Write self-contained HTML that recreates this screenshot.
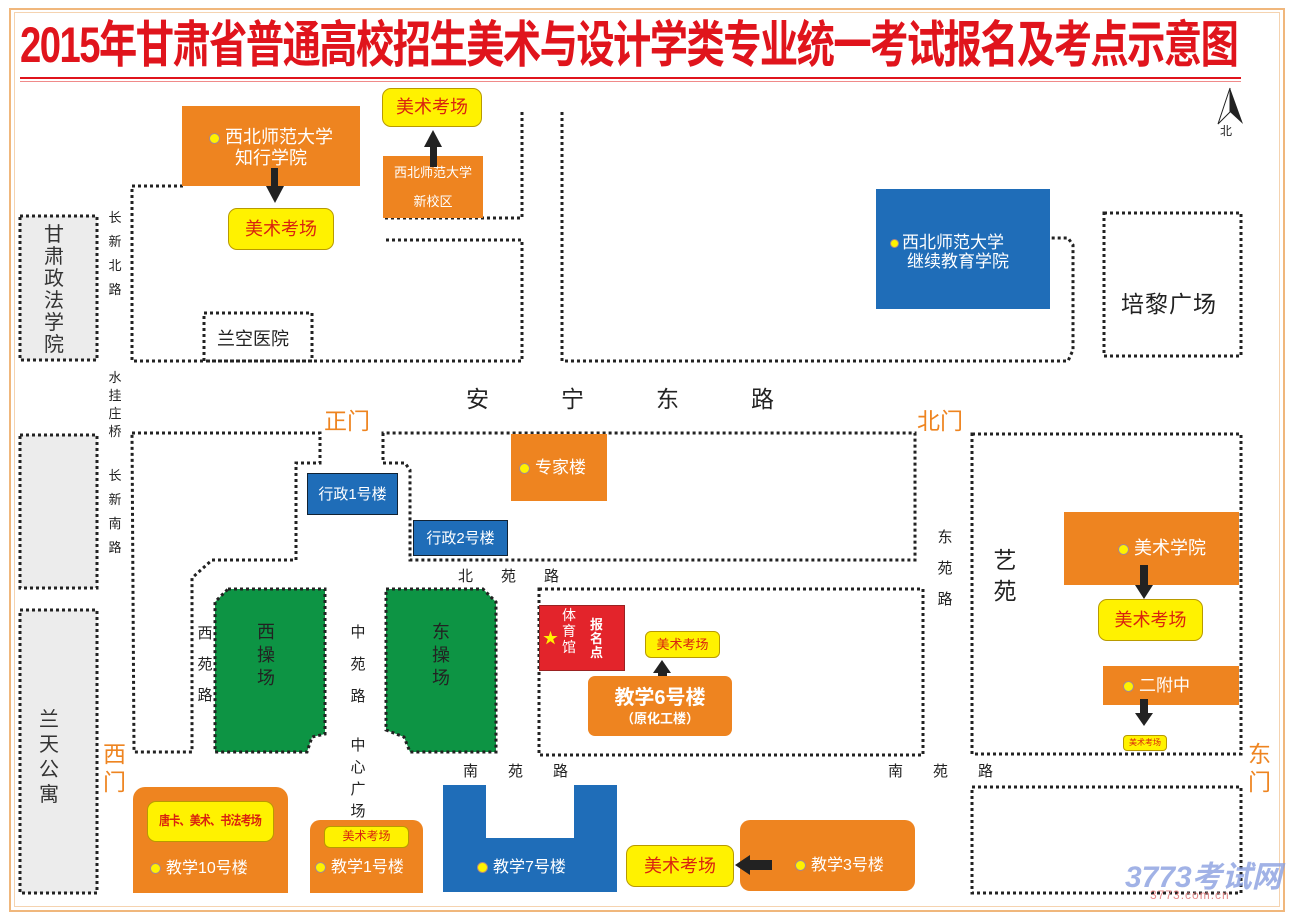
<!DOCTYPE html>
<html><head><meta charset="utf-8"><style>
*{margin:0;padding:0;box-sizing:border-box}
body{width:1291px;height:917px;background:#fff;position:relative;overflow:hidden;font-family:"Liberation Sans","Noto Sans CJK SC",sans-serif}
.a{position:absolute}
.or{position:absolute;background:#ee8420;color:#fff}
.bl{position:absolute;background:#1f6db8;color:#fff}
.ye{position:absolute;background:#fff200;border:1.5px solid #b89a00;border-radius:9px;color:#d9230f;text-align:center;white-space:nowrap}
.dot{display:inline-block;width:11px;height:11px;border-radius:50%;background:#fff200;border:1px solid #a88;vertical-align:middle;margin-right:5px}
.v{position:absolute;color:#222;text-align:center;line-height:1.45;width:20px}
.g{position:absolute;color:#ee8420;font-size:23px}
.t{position:absolute;color:#222}
</style></head><body>
<div class="a" style="left:9px;top:8px;width:1276px;height:904px;border:2px solid #f0b77c"></div>
<div class="a" style="left:14px;top:12px;width:1266px;height:895px;border:1px solid #f5d3b0"></div>
<div class="a" style="left:20px;top:12px;font-size:50px;line-height:66px;color:#e0141c;font-weight:bold;letter-spacing:-2px;white-space:nowrap;transform:scaleX(0.765);transform-origin:left">2015年甘肃省普通高校招生美术与设计学类专业统一考试报名及考点示意图</div>
<div class="a" style="left:20px;top:77px;width:1221px;height:2px;background:#e0141c"></div>
<div class="a" style="left:20px;top:81px;width:1221px;height:1px;background:#f08a8a"></div>

<svg class="a" style="left:0;top:0" width="1291" height="917">
<g fill="none" stroke="#222" stroke-width="3" stroke-dasharray="3 3">
<rect x="20" y="216" width="77" height="144" fill="#ececec"/>
<rect x="20" y="435" width="77" height="153" fill="#ececec"/>
<rect x="20" y="610" width="77" height="283" fill="#ececec"/>
<path d="M183 186H132V361H522V240H383"/>
<path d="M522 112V218H383"/>
<path d="M562 112V361H1068L1073 350V245L1068 238H1050"/>
<rect x="1104" y="213" width="137" height="143"/>
<rect x="204" y="313" width="108" height="48"/>
<path d="M132 433H320V463H296V560H212L192 578V752H134Z"/>
<path d="M383 433V463H405L410 470V560H915V433Z"/>
<rect x="539" y="589" width="384" height="166"/>
<rect x="972" y="434" width="269" height="320"/>
<rect x="972" y="787" width="269" height="106"/>
</g>
<g fill="#0d9444" stroke="#222" stroke-width="3" stroke-dasharray="3 3">
<path d="M228 589H325V734L312 737L307 752H215V602Z"/>
<path d="M386 589H483L496 602V752H410L404 737L386 730Z"/>
</g>
<g fill="#1f6db8">
<path d="M443 785H486V838H574V785H617V892H443Z"/>
</g>
<path d="M1230 88L1218 124L1230 112Z" fill="#fff" stroke="#222"/>
<path d="M1230 88L1243 124L1230 112Z" fill="#222"/>
</svg>
<div class="t" style="left:1220px;top:122px;font-size:12px">北</div>

<div class="or" style="left:182px;top:106px;width:178px;height:80px;font-size:18px;line-height:21px;padding-top:21px;text-align:center"><span class="dot"></span>西北师范大学<br>知行学院</div>
<div class="a" style="left:271px;top:168px;width:7px;height:20px;background:#222"></div>
<div class="a" style="left:266px;top:186px;border-left:9px solid transparent;border-right:9px solid transparent;border-top:17px solid #222"></div>
<div class="ye" style="left:228px;top:208px;width:106px;height:42px;font-size:18px;line-height:40px">美术考场</div>
<div class="ye" style="left:382px;top:88px;width:100px;height:39px;font-size:18px;line-height:37px">美术考场</div>
<div class="or" style="left:383px;top:156px;width:100px;height:62px;font-size:13px;line-height:29px;text-align:center;padding-top:2px">西北师范大学<br>新校区</div>
<div class="a" style="left:430px;top:145px;width:7px;height:22px;background:#222"></div>
<div class="a" style="left:424px;top:130px;border-left:9px solid transparent;border-right:9px solid transparent;border-bottom:17px solid #222"></div>
<div class="v" style="left:38px;top:224px;font-size:20px;line-height:22px;width:32px;color:#333">甘<br>肃<br>政<br>法<br>学<br>院</div>
<div class="v" style="left:105px;top:206px;font-size:13px;line-height:24px">长<br>新<br>北<br>路</div>
<div class="v" style="left:105px;top:369px;font-size:13px;line-height:18px">水<br>挂<br>庄<br>桥</div>
<div class="v" style="left:105px;top:464px;font-size:13px;line-height:24px">长<br>新<br>南<br>路</div>
<div class="t" style="left:217px;top:325px;font-size:18px">兰空医院</div>
<div class="bl" style="left:876px;top:189px;width:174px;height:120px;font-size:17px;line-height:19px;padding-top:44px;padding-left:14px"><span class="dot" style="width:9px;height:9px;margin-right:3px"></span>西北师范大学<br><span style="padding-left:17px">继续教育学院</span></div>
<div class="t" style="left:1121px;top:285px;font-size:23px;letter-spacing:1px">培黎广场</div>
<div class="t" style="left:466px;top:380px;font-size:23px;letter-spacing:72px;white-space:nowrap">安宁东路</div>
<div class="g" style="left:324px;top:402px">正门</div>
<div class="g" style="left:917px;top:402px">北门</div>
<div class="g" style="left:103px;top:740px;width:26px;line-height:28px">西门</div>
<div class="g" style="left:1248px;top:740px;width:26px;line-height:28px">东门</div>
<div class="v" style="left:33px;top:708px;font-size:20px;line-height:25px;width:32px;color:#333">兰<br>天<br>公<br>寓</div>

<div class="bl" style="left:307px;top:473px;width:91px;height:42px;font-size:15px;line-height:42px;text-align:center;border:1px solid #123">行政1号楼</div>
<div class="bl" style="left:413px;top:520px;width:95px;height:36px;font-size:15px;line-height:36px;text-align:center;border:1px solid #123">行政2号楼</div>
<div class="or" style="left:511px;top:434px;width:96px;height:67px;font-size:17px;line-height:67px;padding-left:8px"><span class="dot"></span>专家楼</div>
<div class="t" style="left:458px;top:565px;font-size:15px;letter-spacing:28px;white-space:nowrap">北苑路</div>
<div class="v" style="left:195px;top:618px;font-size:15px;line-height:31px">西<br>苑<br>路</div>
<div class="v" style="left:256px;top:621px;font-size:18px;line-height:23px;color:#222">西<br>操<br>场</div>
<div class="v" style="left:431px;top:621px;font-size:18px;line-height:23px;color:#222">东<br>操<br>场</div>
<div class="v" style="left:348px;top:617px;font-size:15px;line-height:32px">中<br>苑<br>路</div>
<div class="v" style="left:348px;top:735px;font-size:15px;line-height:22px">中<br>心<br>广<br>场</div>
<div class="v" style="left:935px;top:522px;font-size:15px;line-height:31px">东<br>苑<br>路</div>
<div class="v" style="left:990px;top:545px;font-size:23px;line-height:31px;width:30px">艺<br>苑</div>

<div class="a" style="left:539px;top:605px;width:86px;height:66px;background:#e3242b;border:1px solid #922"></div>
<div class="a" style="left:543px;top:627px;color:#fff200;font-size:15px">★</div>
<div class="a" style="left:562px;top:607px;color:#fff;font-size:14px;line-height:16px;width:16px">体<br>育<br>馆</div>
<div class="a" style="left:590px;top:618px;color:#fff;font-size:13px;line-height:14px;width:16px;font-weight:bold">报<br>名<br>点</div>
<div class="ye" style="left:645px;top:631px;width:75px;height:27px;font-size:13px;line-height:25px;border-radius:6px">美术考场</div>
<div class="a" style="left:658px;top:672px;width:9px;height:18px;background:#222"></div>
<div class="a" style="left:653px;top:660px;border-left:9px solid transparent;border-right:9px solid transparent;border-bottom:13px solid #222"></div>
<div class="or" style="left:588px;top:676px;width:144px;height:60px;border-radius:7px;text-align:center;font-weight:bold"><div style="font-size:20px;line-height:26px;padding-top:9px">教学6号楼</div><div style="font-size:13px;line-height:16px">（原化工楼）</div></div>

<div class="or" style="left:1064px;top:512px;width:175px;height:73px;font-size:18px;line-height:73px;padding-left:54px"><span class="dot"></span>美术学院</div>
<div class="a" style="left:1140px;top:565px;width:8px;height:22px;background:#222"></div>
<div class="a" style="left:1135px;top:585px;border-left:9px solid transparent;border-right:9px solid transparent;border-top:14px solid #222"></div>
<div class="ye" style="left:1098px;top:599px;width:105px;height:42px;font-size:18px;line-height:40px">美术考场</div>
<div class="or" style="left:1103px;top:666px;width:136px;height:39px;font-size:17px;line-height:39px;padding-left:20px"><span class="dot"></span>二附中</div>
<div class="a" style="left:1140px;top:699px;width:8px;height:16px;background:#222"></div>
<div class="a" style="left:1135px;top:713px;border-left:9px solid transparent;border-right:9px solid transparent;border-top:13px solid #222"></div>
<div class="ye" style="left:1123px;top:735px;width:44px;height:16px;font-size:8px;line-height:13px;border-radius:4px">美术考场</div>

<div class="t" style="left:463px;top:760px;font-size:15px;letter-spacing:30px;white-space:nowrap">南苑路</div>
<div class="t" style="left:888px;top:760px;font-size:15px;letter-spacing:30px;white-space:nowrap">南苑路</div>

<div class="or" style="left:133px;top:787px;width:155px;height:106px;border-radius:12px 12px 0 0;font-size:16px"><div class="ye" style="left:14px;top:14px;width:127px;height:41px;font-size:13px;line-height:38px;font-weight:bold;letter-spacing:-1px;overflow:hidden"><span style="display:inline-block;transform:scaleX(0.85)">唐卡、美术、书法考场</span></div><div class="a" style="left:17px;top:67px"><span class="dot"></span>教学10号楼</div></div>
<div class="or" style="left:310px;top:820px;width:113px;height:73px;border-radius:10px 10px 0 0;font-size:16px"><div class="ye" style="left:14px;top:6px;width:85px;height:22px;font-size:12px;line-height:19px;border-radius:6px">美术考场</div><div class="a" style="left:5px;top:33px"><span class="dot"></span>教学1号楼</div></div>
<div class="a" style="left:477px;top:853px;color:#fff;font-size:16px"><span class="dot"></span>教学7号楼</div>
<div class="ye" style="left:626px;top:845px;width:108px;height:42px;font-size:18px;line-height:40px">美术考场</div>
<div class="or" style="left:740px;top:820px;width:175px;height:71px;border-radius:10px;font-size:16px;line-height:91px;padding-left:55px"><span class="dot"></span>教学3号楼</div>
<div class="a" style="left:748px;top:860px;width:24px;height:10px;background:#222"></div>
<div class="a" style="left:735px;top:855px;border-top:10px solid transparent;border-bottom:10px solid transparent;border-right:15px solid #222"></div>

<div class="a" style="left:1125px;top:852px;font-size:30px;font-style:italic;font-weight:bold;color:#8aa0e0;opacity:0.8;white-space:nowrap">3773考试网</div>
<div class="a" style="left:1150px;top:888px;font-size:12px;color:#e58a8a;letter-spacing:1px;white-space:nowrap">3773.com.cn</div>
</body></html>
